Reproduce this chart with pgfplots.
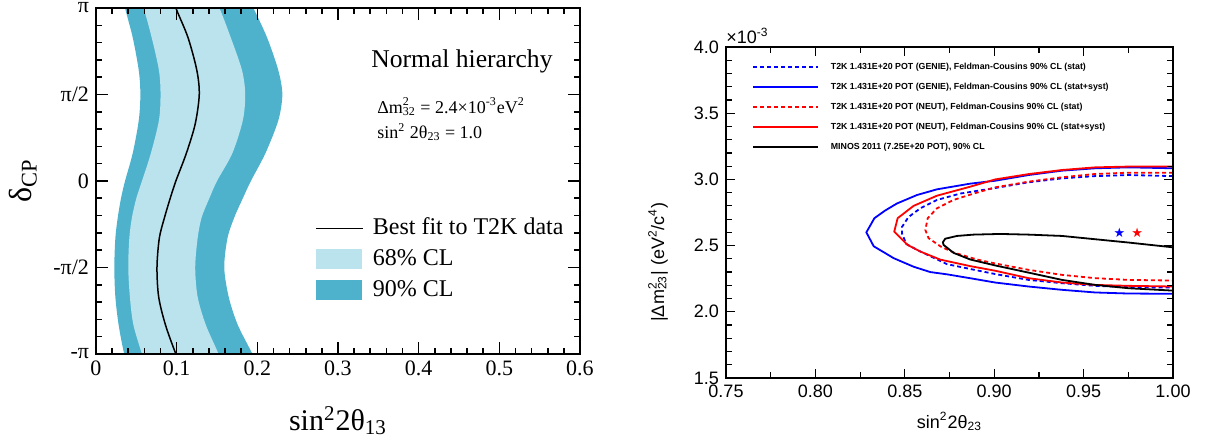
\documentclass[border=0pt]{standalone}
\usepackage{fontspec}
\setmainfont{Liberation Serif}
\newfontfamily\helv{Liberation Sans}
\newfontfamily\djv{DejaVu Sans}
\usepackage{pgfplots}
\usepackage{pgfplotstable}
\pgfplotsset{compat=1.18}

\definecolor{cldark}{RGB}{78,178,205}
\definecolor{cllight}{RGB}{187,227,237}

\newcommand{\supsub}[2]{\rlap{\textsuperscript{#1}}\textsubscript{#2}}

\pgfplotsset{
  lineleg/.style={legend image code/.code={\draw[##1] (0pt,0pt) -- (23.5pt,0pt);}},
  boxleg/.style={legend image code/.code={\fill[##1] (0pt,-5pt) rectangle (23pt,5pt);}},
}

% delta_CP in units of pi. Band outlines: left edge upwards, right edge downwards
\pgfplotstableread{
x       y
0.0455  -1.4
0.0455  -1.17
0.035   -1.00
0.028   -0.83
0.024   -0.67
0.0227  -0.50
0.024   -0.33
0.027   -0.21
0.031   -0.10
0.036   0.00
0.0455  0.16
0.053   0.35
0.055   0.50
0.053   0.64
0.0455  0.83
0.036   1.00
0.028   1.17
0.028   1.4
0.1756  1.4
0.1756  1.17
0.195   1.00
0.212   0.83
0.226   0.64
0.231   0.50
0.226   0.35
0.210   0.16
0.192   0.00
0.182   -0.10
0.1715  -0.21
0.163   -0.33
0.159   -0.50
0.1645  -0.67
0.1756  -0.83
0.194   -1.00
0.212   -1.17
0.212   -1.4
}\bandninety

\pgfplotstableread{
x       y
0.069   -1.4
0.069   -1.17
0.057   -1.00
0.0463  -0.83
0.042   -0.67
0.040   -0.50
0.0413  -0.33
0.0446  -0.21
0.050   -0.10
0.057   0.00
0.068   0.16
0.078   0.35
0.080   0.50
0.078   0.64
0.069   0.83
0.059   1.00
0.0463  1.17
0.0463  1.4
0.136   1.4
0.136   1.17
0.153   1.00
0.167   0.83
0.181   0.64
0.185   0.50
0.182   0.35
0.169   0.16
0.150   0.00
0.1405  -0.10
0.131   -0.21
0.126   -0.33
0.123   -0.50
0.126   -0.67
0.136   -0.83
0.152   -1.00
0.167   -1.17
0.167   -1.4
}\bandsixtyeight

\pgfplotstableread{
x       y
0.114   -1.17
0.099   -1.00
0.086   -0.83
0.0777  -0.67
0.0756  -0.50
0.0785  -0.33
0.085   -0.21
0.092   -0.10
0.099   0.00
0.112   0.16
0.123   0.33
0.128   0.50
0.125   0.64
0.114   0.83
0.099   1.00
0.086   1.17
}\bestfit

\begin{document}
\begin{tikzpicture}

% ---------------- left panel ----------------
\begin{axis}[
    at={(48pt,45.5pt)}, anchor=south west,
    scale only axis, width=242pt, height=173pt,
    clip mode=individual,
    axis on top,
    xmin=0, xmax=0.6, ymin=-1, ymax=1,
    xtick={0,0.1,0.2,0.3,0.4,0.5,0.6}, xticklabels={0,0.1,0.2,0.3,0.4,0.5,0.6},
    minor x tick num=4,
    ytick={-1,-0.5,0,0.5,1}, yticklabels={-π,-π/2,0,π/2,π}, minor y tick num=4,
    tick align=inside,
    major tick length=6pt, minor tick length=3pt,
    tick style={black, line width=0.8pt},
    axis line style={line width=1pt},
    tick label style={font=\fontsize{11}{12}\selectfont},
    xlabel={sin\textsuperscript{2}2θ\textsubscript{13}},
    xlabel style={font=\fontsize{15}{16}\selectfont, inner sep=0pt, at={(axis description cs:0.5,-0.15)}, anchor=north},
    ylabel={δ\textsubscript{CP}},
    ylabel style={font=\fontsize{16}{18}\selectfont, inner sep=0pt, at={(axis description cs:-0.151,0.5)}, anchor=center},
    legend style={at={(0.4525,0.399)}, anchor=north west, draw=none, fill=none, inner sep=0pt,
        font=\fontsize{12}{13}\selectfont, row sep=3.5pt, column sep=4.5pt,
        nodes={inner sep=0pt, text height=9pt, text depth=3pt}},
    legend cell align=left,
]
\addplot[fill=cldark, draw=none, smooth, forget plot] table {\bandninety};
\addplot[fill=cllight, draw=none, smooth, forget plot] table {\bandsixtyeight};
\addplot[black, line width=0.75pt, smooth, forget plot] table {\bestfit};

\addlegendimage{lineleg, black, line width=0.75pt}
\addlegendentry{Best fit to T2K data}
\addlegendimage{boxleg, fill=cllight, draw=none}
\addlegendentry{68\% CL}
\addlegendimage{boxleg, fill=cldark, draw=none}
\addlegendentry{90\% CL}

\node[anchor=base west, inner sep=0pt, font=\fontsize{12.8}{14}\selectfont] at (rel axis cs:0.568,0.8266) {Normal hierarchy};
\node[anchor=base west, inner sep=0pt, font=\fontsize{9}{10}\selectfont] at (rel axis cs:0.5806,0.6965) {Δm\supsub{2}{32} = 2.4×10\textsuperscript{-3}eV\textsuperscript{2}};
\node[anchor=base west, inner sep=0pt, font=\fontsize{9}{10}\selectfont] at (rel axis cs:0.5806,0.6214) {sin\textsuperscript{2} 2θ\textsubscript{23} = 1.0};
\end{axis}

% ---------------- right panel ----------------
\begin{axis}[
    at={(363pt,33.5pt)}, anchor=south west,
    scale only axis, width=223.5pt, height=165.5pt,
    clip mode=individual,
    axis on top,
    xmin=0.75, xmax=1, ymin=1.5, ymax=4,
    xtick={0.75,0.8,0.85,0.9,0.95,1}, minor x tick num=1,
    ytick={1.5,2,2.5,3,3.5,4}, minor y tick num=4,
    tick align=inside,
    tick style={black, line width=0.6pt},
    axis line style={line width=1.2pt},
    x tick label style={/pgf/number format/.cd, fixed, fixed zerofill, precision=2, /tikz/.cd},
    y tick label style={/pgf/number format/.cd, fixed, fixed zerofill, precision=1, /tikz/.cd},
    tick label style={font=\helv\fontsize{9}{10}\selectfont},
    /pgf/number format/assume math mode=true,
    xlabel={sin\textsuperscript{2}2θ\textsubscript{23}},
    xlabel style={font=\helv\fontsize{9}{10}\selectfont, inner sep=0pt, at={(axis description cs:0.5,-0.103)}, anchor=north},
    ylabel={|Δm\supsub{2}{23}| (eV\textsuperscript{2}/c\textsuperscript{4})},
    ylabel style={font=\helv\fontsize{9}{10}\selectfont, inner sep=0pt, at={(axis description cs:-0.152,0.35)}, anchor=center},
    legend style={at={(0.0575,0.952)}, anchor=north west, draw=none, fill=none, inner sep=0pt,
        font=\helv\bfseries\fontsize{4.4}{5}\selectfont, row sep=5.9pt, column sep=6pt,
        nodes={inner sep=0pt, text height=3.1pt, text depth=1pt}},
    legend cell align=left,
    legend image code/.code={\draw[#1] (0pt,0pt) -- (32.5pt,0pt);},
]
\addplot[blue, line width=0.9pt, dash pattern=on 2pt off 1.5pt] coordinates {
(1.0,3.025)(0.9752,3.033)(0.9565,3.025)(0.9379,3.008)(0.9192,2.978)(0.9006,2.935)(0.881,2.893)(0.868,2.845)(0.8587,2.782)(0.8520,2.715)(0.8484,2.640)(0.8484,2.593)(0.8508,2.513)(0.8568,2.468)(0.8736,2.360)(0.8885,2.318)(0.9006,2.285)(0.9192,2.241)(0.9379,2.216)(0.9565,2.196)(0.9752,2.186)(1.0,2.183)};
\addlegendentry{T2K 1.431E+20 POT (GENIE), Feldman-Cousins 90\% CL (stat)}
\addplot[blue, line width=0.9pt] coordinates {
(1.0,3.084)(0.9752,3.091)(0.9565,3.084)(0.9379,3.066)(0.9192,3.033)(0.9006,2.990)(0.8866,2.968)(0.868,2.925)(0.8568,2.882)(0.8456,2.818)(0.8390,2.765)(0.8330,2.707)(0.8285,2.600)(0.8326,2.495)(0.8438,2.405)(0.8550,2.340)(0.8643,2.300)(0.8736,2.283)(0.8860,2.255)(0.9006,2.221)(0.9192,2.191)(0.9379,2.166)(0.9565,2.146)(0.9752,2.138)(1.0,2.136)};
\addlegendentry{T2K 1.431E+20 POT (GENIE), Feldman-Cousins 90\% CL (stat+syst)}
\addplot[red, line width=0.9pt, dash pattern=on 2pt off 1.5pt] coordinates {
(1.0,3.051)(0.9752,3.051)(0.9565,3.041)(0.9379,3.016)(0.9192,2.983)(0.9006,2.94)(0.8885,2.893)(0.8773,2.845)(0.868,2.782)(0.8628,2.707)(0.8615,2.618)(0.8633,2.556)(0.8702,2.492)(0.8773,2.448)(0.8904,2.395)(0.9006,2.365)(0.9192,2.317)(0.9379,2.279)(0.9565,2.254)(0.9752,2.241)(1.0,2.236)};
\addlegendentry{T2K 1.431E+20 POT (NEUT), Feldman-Cousins 90\% CL (stat)}
\addplot[red, line width=0.9pt] coordinates {
(1.0,3.097)(0.9752,3.097)(0.9565,3.091)(0.9379,3.071)(0.9192,3.04)(0.9006,3.0)(0.8866,2.945)(0.868,2.877)(0.8549,2.80)(0.846,2.707)(0.8441,2.606)(0.8516,2.505)(0.8587,2.455)(0.8699,2.394)(0.8866,2.345)(0.9006,2.31)(0.9192,2.254)(0.9379,2.221)(0.9565,2.203)(0.9752,2.196)(1.0,2.191)};
\addlegendentry{T2K 1.431E+20 POT (NEUT), Feldman-Cousins 90\% CL (stat+syst)}
\addplot[black, line width=0.9pt] coordinates {
(1.0,2.487)(0.9752,2.523)(0.9565,2.548)(0.9379,2.573)(0.9192,2.583)(0.9034,2.588)(0.8885,2.583)(0.8792,2.573)(0.8726,2.552)(0.8713,2.525)(0.8717,2.505)(0.8773,2.445)(0.8866,2.395)(0.9006,2.350)(0.9192,2.296)(0.9379,2.241)(0.9565,2.203)(0.9752,2.178)(1.0,2.160)};
\addlegendentry{MINOS 2011 (7.25E+20 POT), 90\% CL}
\addplot[only marks, mark=text, text mark={\djv\fontsize{6.5}{6.5}\selectfont\textcolor{blue}{★}}, forget plot] coordinates {(0.970,2.60)};
\addplot[only marks, mark=text, text mark={\djv\fontsize{6.5}{6.5}\selectfont\textcolor{red}{★}}, forget plot] coordinates {(0.980,2.60)};

\node[anchor=base west, inner sep=0pt, font=\helv\fontsize{9}{10}\selectfont] at (rel axis cs:0,1.01) {×10\textsuperscript{-3}};
\end{axis}

\pgfresetboundingbox
\useasboundingbox (0,0) rectangle (603pt,222.5pt);
\end{tikzpicture}
\end{document}
